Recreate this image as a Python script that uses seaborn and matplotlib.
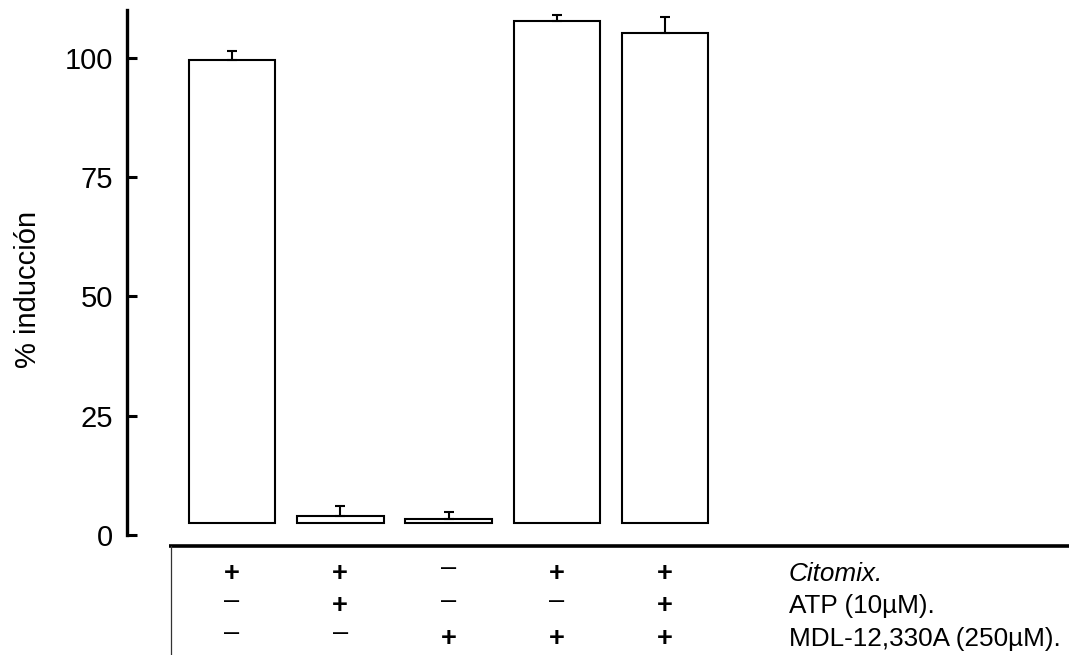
import numpy as np
import pandas as pd
import matplotlib
matplotlib.use("Agg")
import matplotlib.pyplot as plt
import matplotlib.transforms as mtransforms
import seaborn as sns

# data
conditions = ['Citomix', 'Citomix+ATP', 'MDL', 'Citomix+MDL', 'Citomix+ATP+MDL']
induction = [99.5, 4.0, 3.4, 107.7, 105.1]
sem = [1.9, 2.1, 1.4, 1.3, 3.5]
baseline = 2.5

citomix = ['+', '+', '–', '+', '+']
atp = ['–', '+', '–', '–', '+']
mdl = ['–', '–', '+', '+', '+']
row_labels = ['Citomix.', 'ATP (10µM).', 'MDL-12,330A (250µM).']
yticks = [0, 25, 50, 75, 100]

sns.set_theme(style='white', rc={'text.color': 'black', 'axes.labelcolor': 'black',
                                 'xtick.color': 'black', 'ytick.color': 'black'})
plt.rcParams['font.family'] = ['Liberation Sans', 'DejaVu Sans']

df = pd.DataFrame({'condition': conditions,
                   'height': np.array(induction) - baseline})

fig = plt.figure(figsize=(10.69, 6.55), dpi=100)
ax = fig.add_axes([0.1188, 0.1832, 0.8812, 0.8015])

sns.barplot(data=df, x='condition', y='height', bottom=baseline, color='white',
            saturation=1, edgecolor='black', linewidth=1.5, width=0.8,
            errorbar=None, ax=ax)
ax.errorbar(np.arange(len(conditions)), induction,
            yerr=[np.zeros(len(sem)), sem], fmt='none', ecolor='black',
            elinewidth=1.5, capsize=3.3, capthick=1.5, zorder=3)

ax.set_xlim(-0.97, 7.73)
ax.set_ylim(0, 110)
ax.set_yticks(yticks)
ax.set_yticklabels([str(t) for t in yticks], fontsize=21)
ax.set_xticks([])
ax.set_xlabel('')
ax.set_ylabel('% inducción', fontsize=21)
ax.yaxis.set_label_coords(-0.090, 0.467)

for s in ['top', 'right', 'bottom']:
    ax.spines[s].set_visible(False)
ax.spines['left'].set_linewidth(2.4)
ax.spines['left'].set_color('black')
ax.tick_params(axis='y', direction='in', length=7, width=2.2, pad=10,
               colors='black', left=True)

# treatment table under the bars
trans = ax.get_xaxis_transform()
trans_minus = mtransforms.offset_copy(trans, fig=fig, y=4, units='points')
row_y = [-0.0876, -0.1495, -0.2114]
for signs, label, y in zip([citomix, atp, mdl], row_labels, row_y):
    for j, s in enumerate(signs):
        ax.text(j, y, s, transform=trans_minus if s == '–' else trans,
                ha='center', va='baseline', fontsize=19.5, clip_on=False,
                fontweight='bold' if s == '+' else 'normal')
    ax.text(5.143, y, label, transform=trans, ha='left', va='baseline',
            fontsize=18.8, clip_on=False,
            style='italic' if label == 'Citomix.' else 'normal')

ax.plot([-0.58, 7.73], [-0.0204, -0.0204], transform=trans, color='black',
        lw=2.6, clip_on=False, solid_capstyle='butt')
ax.plot([-0.563, -0.563], [-0.0204, -0.23], transform=trans, color='#333333',
        lw=0.9, clip_on=False)

fig.savefig('out.png', dpi=100)
